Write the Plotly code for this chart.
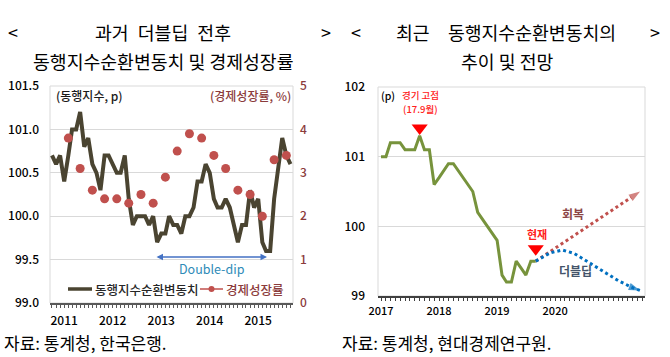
import plotly.graph_objects as go
import pandas as pd

W, H = 670, 357
KR = "Noto Sans CJK KR"

# ---------------- data: left chart ----------------
left_months = pd.date_range("2010-10-01", periods=60, freq="MS")
cycle_left = [100.7, 100.6, 100.7, 100.4, 100.7, 101.0, 101.0, 101.2, 100.8, 100.9,
              100.6, 100.5, 100.3, 100.7, 100.7, 100.6, 100.5, 100.5, 100.7, 100.2,
              99.9, 100.0, 100.0, 100.0, 99.9, 100.0, 99.7, 99.8, 99.8, 100.0,
              99.9, 99.9, 99.8, 100.0, 100.0, 100.1, 100.4, 100.4, 100.6, 100.5,
              100.2, 100.1, 100.1, 100.2, 100.1, 99.9, 99.7, 99.9, 99.9, 100.3,
              100.1, 100.2, 99.7, 99.6, 99.6, 100.2, 100.6, 100.9, 100.7, 100.6]
gdp_quarters = pd.date_range("2011-02-01", periods=19, freq="3MS")  # mid-quarter months
gdp_growth = [3.8, 3.1, 2.6, 2.4, 2.4, 2.3, 2.5, 2.3, 2.9, 3.5,
              3.9, 3.8, 3.4, 3.1, 2.6, 2.5, 2.0, 3.3, 3.4]
left_year_ticks = ["2011-01-01", "2012-01-01", "2013-01-01", "2014-01-01", "2015-01-01"]
left_year_labels = ["2011", "2012", "2013", "2014", "2015"]

# ---------------- data: right chart ----------------
right_months = pd.date_range("2017-01-01", periods=33, freq="MS")
cycle_right = [101.0, 101.0, 101.2, 101.2, 101.2, 101.1, 101.1, 101.1, 101.3, 101.1,
               101.1, 100.6, 100.7, 100.8, 100.9, 100.9, 100.8, 100.7, 100.6, 100.5,
               100.2, 100.1, 100.0, 99.9, 99.8, 99.3, 99.2, 99.2, 99.5, 99.4,
               99.3, 99.5, 99.5]
recovery_dates = ["2019-09-01", "2021-06-18"]
recovery_vals = [99.5, 100.5]
dip_dates = ["2019-09-01", "2019-12-01", "2020-02-15", "2020-05-01", "2020-08-01",
             "2020-11-01", "2021-02-01", "2021-05-01", "2021-06-18"]
dip_vals = [99.5, 99.62, 99.66, 99.61, 99.48, 99.35, 99.22, 99.12, 99.08]
peak_date, peak_mark = ["2017-09-01"], [101.41]
now_date, now_mark = ["2019-09-01"], [99.68]
right_year_ticks = ["2017-01-01", "2018-01-01", "2019-01-01", "2020-01-01"]
right_year_labels = ["2017", "2018", "2019", "2020"]

# ---------------- colours ----------------
C_LINE = "#4A4431"
C_DOT = "#C0504D"
C_MAROON = "#8B3B3B"
C_GREEN = "#77933C"
C_REC = "#C0504D"
C_DIP = "#0070C0"
C_GRID = "#D9D9D9"


def px(x, y):
    return x / W, 1 - y / H


fig = go.Figure()

fig.add_trace(go.Scatter(x=left_months, y=cycle_left, mode="lines",
                         line=dict(color=C_LINE, width=4), xaxis="x", yaxis="y",
                         showlegend=False))
fig.add_trace(go.Scatter(x=gdp_quarters, y=gdp_growth, mode="markers",
                         marker=dict(color=C_DOT, size=9), xaxis="x", yaxis="y2",
                         showlegend=False))

fig.add_trace(go.Scatter(x=right_months, y=cycle_right, mode="lines",
                         line=dict(color=C_GREEN, width=3), xaxis="x2", yaxis="y3",
                         showlegend=False))
for dates, vals, col in [(recovery_dates, recovery_vals, C_REC), (dip_dates, dip_vals, C_DIP)]:
    n = len(vals)
    fig.add_trace(go.Scatter(
        x=dates, y=vals, mode="lines+markers",
        line=dict(color=col, width=3, dash="3px,3px"),
        marker=dict(symbol="arrow", size=[0] * (n - 1) + [12], color=col,
                    angleref="previous", line=dict(width=0)),
        xaxis="x2", yaxis="y3", showlegend=False))
for d, v in [(peak_date, peak_mark), (now_date, now_mark)]:
    fig.add_trace(go.Scatter(x=d, y=v, mode="markers",
                             marker=dict(symbol="triangle-down", size=14, color="#FF0000",
                                         line=dict(width=0)),
                             xaxis="x2", yaxis="y3", showlegend=False))

axis_font = dict(family=KR, size=12, color="#000000", weight=500)
fig.update_layout(
    template="none",
    width=W, height=H, margin=dict(l=0, r=0, t=0, b=0, pad=0),
    paper_bgcolor="white", plot_bgcolor="white", showlegend=False,
    xaxis=dict(domain=[50 / W, 293 / W], anchor="y", type="date", automargin=False,
               range=["2010-09-16", "2015-09-20"],
               tickvals=left_year_ticks, ticktext=left_year_labels,
               ticks="outside", ticklen=3, tickcolor="#595959",
               minor=dict(dtick="M1", ticks="outside", ticklen=3, tickcolor="#595959"),
               showline=True, linecolor="#595959", linewidth=1.5,
               showgrid=False, ticklabelstandoff=3,
               tickfont=dict(family=KR, size=12, color="#000000", weight=500)),
    yaxis=dict(domain=[(H - 303) / H, (H - 86) / H], anchor="x", automargin=False,
               range=[99.0, 101.5], dtick=0.5, tickformat=".1f",
               showgrid=True, gridcolor=C_GRID, gridwidth=1, zeroline=False,
               showline=False, ticks="", ticklabelstandoff=10, tickfont=axis_font),
    yaxis2=dict(overlaying="y", side="right", anchor="x", range=[0, 5], dtick=1,
                automargin=False, showline=False,
                showgrid=False, zeroline=False, ticks="", ticklabelstandoff=6,
                tickfont=dict(family=KR, size=12, color=C_MAROON, weight=500)),
    xaxis2=dict(domain=[378 / W, 645 / W], anchor="y3", type="date", automargin=False,
                range=["2016-12-13", "2021-07-19"],
                tickvals=right_year_ticks, ticktext=right_year_labels,
                ticks="outside", ticklen=3, tickcolor="#404040",
                minor=dict(dtick="M1", ticks="outside", ticklen=3, tickcolor="#404040"),
                showline=True, linecolor="#404040", linewidth=2,
                showgrid=False, ticklabelstandoff=1,
                tickfont=dict(family=KR, size=11, color="#000000", weight=500)),
    yaxis3=dict(domain=[(H - 296) / H, (H - 87) / H], anchor="x2", automargin=False,
                range=[99, 102], dtick=1, showgrid=True, gridcolor=C_GRID,
                zeroline=False, showline=False, ticks="", ticklabelstandoff=12,
                tickfont=axis_font),
)

shapes = []
# plot-area frames
for (x0, y0, x1, y1) in [(50, 86, 293, 303), (378, 87, 645, 296)]:
    a0, b0 = px(x0, y0)
    a1, b1 = px(x1, y1)
    shapes.append(dict(type="rect", xref="paper", yref="paper", x0=a0, y0=b1, x1=a1, y1=b0,
                       line=dict(color=C_GRID, width=1), layer="below"))
# custom legend
lx0, ly = px(68, 289)
lx1, _ = px(92, 289)
shapes.append(dict(type="line", xref="paper", yref="paper", x0=lx0, x1=lx1, y0=ly, y1=ly,
                   line=dict(color=C_LINE, width=3.5)))
gx0, _ = px(200, 289)
gx1, _ = px(223, 289)
shapes.append(dict(type="line", xref="paper", yref="paper", x0=gx0, x1=gx1, y0=ly, y1=ly,
                   line=dict(color=C_DOT, width=1.5)))
cx0, cy0 = px(208.5, 286)
cx1, cy1 = px(214.5, 292)
shapes.append(dict(type="circle", xref="paper", yref="paper", x0=cx0, x1=cx1, y0=cy1, y1=cy0,
                   fillcolor=C_DOT, line=dict(width=0)))
fig.update_layout(shapes=shapes)

ann = []


def text(x, y, s, size, color="#000000", xanchor="center", weight="normal", family=KR):
    a, b = px(x, y)
    ann.append(dict(xref="paper", yref="paper", x=a, y=b, text=s, showarrow=False,
                    xanchor=xanchor, yanchor="middle",
                    font=dict(family=family, size=size, color=color, weight=weight)))


EN = "\u2002"
EM = "\u2003"
# titles
text(163, 32, "과거" + EN + "더블딥" + EN + "전후", 18.3)
text(163, 61, "동행지수순환변동치 및 경제성장률", 18.3)
text(13, 32, "<", 18)
text(326, 32, ">", 18)
text(506, 32, "최근" + EM + "동행지수순환변동치의", 18.3)
text(507, 61, "추이 및 전망", 18.3)
text(356, 32, "<", 18)
text(655, 32, ">", 18)

# left chart labels
text(54, 96, "(동행지수, p)", 12, color="#1A1A1A", xanchor="left", weight=500)
text(293, 96, "(경제성장률, %)", 12, color=C_MAROON, xanchor="right", weight=500)
text(212, 268, "Double-dip", 12.5, color="#2E8BB8")
text(93, 289, "동행지수순환변동치", 12.5, color="#262626", xanchor="left", weight=500)
text(224, 289, "경제성장률", 12.5, color=C_MAROON, xanchor="left", weight=500)

# double-dip arrow
a1, b1 = px(267, 257)
ann.append(dict(xref="paper", yref="paper", x=a1, y=b1, ax=-112, ay=0, axref="pixel",
                ayref="pixel", text="", showarrow=True, arrowhead=2, arrowsize=1,
                arrowwidth=1.3, arrowcolor="#4472C4", arrowside="end+start"))

# right chart labels
text(379, 96, "(p)", 10.5, xanchor="left", weight=500)
text(420, 95, "경기 고점", 9.5, color="#FF2020", weight=500)
text(420, 109, "(17.9월)", 9.5, color="#FF2020", weight=500)
text(537, 234, "현재", 11, color="#FF2020", weight=600)
text(573, 213, "회복", 12, color="#8B4545", weight=600)
text(575, 270, "더블딥", 12, color="#44546A", weight=600)

# sources
text(2, 342, "자료: 통계청, 한국은행.", 17, xanchor="left")
text(340, 342, "자료: 통계청, 현대경제연구원.", 17, xanchor="left")

fig.update_layout(annotations=ann)
fig.write_html("out.html", config={"displayModeBar": False},
               post_script="document.body.style.margin='0';document.body.style.padding='0';"
                           "document.documentElement.style.overflow='hidden';")
